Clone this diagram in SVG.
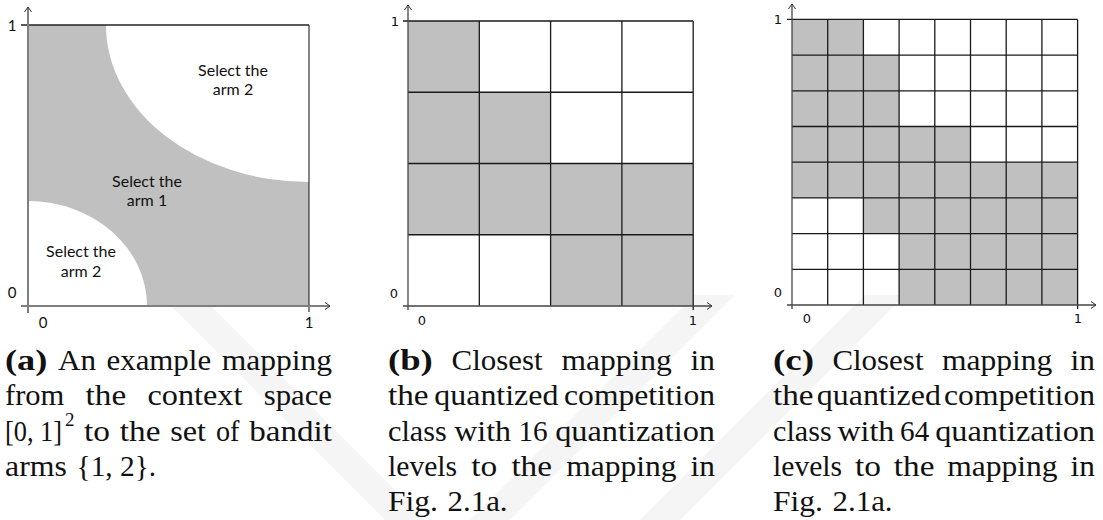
<svg xmlns="http://www.w3.org/2000/svg" width="1103" height="520" viewBox="0 0 1103 520">
<defs>
<marker id="arr" markerUnits="userSpaceOnUse" markerWidth="10" markerHeight="10" refX="7" refY="5" orient="auto">
<path d="M2,1.5 L7,5 L2,8.5" fill="none" stroke="#333" stroke-width="1"/>
</marker>
<style>
.g{fill:#c0c0c0}
.grid{stroke:#1a1a1a;stroke-width:1.3;fill:none}
.axA{stroke:#7f7f7f;stroke-width:2;fill:none}
.ax{stroke:#444;stroke-width:1.3;fill:none}
.wm{fill:#f5f5f5}
</style>
</defs>
<rect width="1103" height="520" fill="#fff"/>
<g id="watermark">
<polygon class="wm" points="165,300 205,300 425,520 385,520"/>
<polygon class="wm" points="470,520 510,520 735,295 695,295"/>
<polygon class="wm" points="640,520 680,520 905,295 865,295"/>
</g>
<g id="panel-a">
<rect class="g" x="28" y="25" width="281" height="281"/>
<path d="M106,25 A203,157 0 0 0 309,182 L309,25 Z" fill="#fff"/>
<path d="M28,201 A119,105 0 0 1 147,306 L28,306 Z" fill="#fff"/>
<line x1="21" y1="25" x2="309" y2="25" stroke="#222" stroke-width="1.3"/>
<line x1="309" y1="25" x2="309" y2="312" stroke="#333" stroke-width="1.2"/>
<g font-family="Lato, Liberation Sans, sans-serif" font-size="16" fill="#111" text-anchor="middle">
<text x="233" y="76">Select the</text>
<text x="233" y="95">arm 2</text>
<text x="147" y="187">Select the</text>
<text x="147" y="206">arm 1</text>
<text x="81" y="257">Select the</text>
<text x="81" y="277">arm 2</text>
<text x="12" y="31" font-size="15">1</text>
<text x="12" y="298" font-size="15">0</text>
<text x="43" y="328" font-size="15">0</text>
<text x="309" y="328" font-size="15">1</text>
</g>
</g>
<g id="panel-b">
<rect class="g" x="408" y="21" width="71.3" height="71.25"/>
<rect class="g" x="408" y="92.25" width="142.6" height="71.25"/>
<rect class="g" x="408" y="163.5" width="285.2" height="71.25"/>
<rect class="g" x="550.6" y="234.75" width="142.6" height="71.25"/>
<path class="grid" d="M403,21 H693.2 M408,92.25 H693.2 M408,163.5 H693.2 M408,234.75 H693.2 M479.3,21 V306 M550.6,21 V306 M621.9,21 V306 M693.2,21 V310"/>
<g font-family="DejaVu Sans, sans-serif" font-size="13" fill="#111" text-anchor="middle">
<text x="395" y="26">1</text>
<text x="394" y="298">0</text>
<text x="422" y="325">0</text>
<text x="693" y="325">1</text>
</g>
</g>
<g id="panel-c">
<path class="g" d="M792,19.4 H863.4 V55.1 H899.1 V126.5 H970.5 V162.2 H1077.6 V305 H899.1 V233.6 H863.4 V197.9 H792 Z"/>
<path class="grid" d="M787,19.4 H1077.6 M792,55.1 H1077.6 M792,90.8 H1077.6 M792,126.5 H1077.6 M792,162.2 H1077.6 M792,197.9 H1077.6 M792,233.6 H1077.6 M792,269.3 H1077.6 M827.7,19.4 V305 M863.4,19.4 V305 M899.1,19.4 V305 M934.8,19.4 V305 M970.5,19.4 V305 M1006.2,19.4 V305 M1041.9,19.4 V305 M1077.6,19.4 V309"/>
<g font-family="DejaVu Sans, sans-serif" font-size="13" fill="#111" text-anchor="middle">
<text x="778" y="24">1</text>
<text x="778" y="297">0</text>
<text x="807" y="323">0</text>
<text x="1078" y="323">1</text>
</g>
</g>
<g id="axes">
<line class="axA" x1="28" y1="313" x2="28" y2="7" marker-end="url(#arr)"/>
<line class="axA" x1="21" y1="306" x2="330" y2="306" marker-end="url(#arr)"/>
<line class="ax" x1="408" y1="310" x2="408" y2="5" marker-end="url(#arr)"/>
<line class="ax" x1="403" y1="306" x2="712" y2="306" marker-end="url(#arr)"/>
<line class="ax" x1="792" y1="309" x2="792" y2="4" marker-end="url(#arr)"/>
<line class="ax" x1="787" y1="305" x2="1096" y2="305" marker-end="url(#arr)"/>
</g>
<g id="captions" fill="#111" font-family="Liberation Serif, DejaVu Serif, serif" font-size="29">
<text x="5" y="370" font-weight="bold" textLength="42.4" lengthAdjust="spacingAndGlyphs">(a)</text>
<text x="57.9" y="370" textLength="38.1" lengthAdjust="spacingAndGlyphs">An</text>
<text x="106.5" y="370" textLength="104.6" lengthAdjust="spacingAndGlyphs">example</text>
<text x="221.7" y="370" textLength="110.3" lengthAdjust="spacingAndGlyphs">mapping</text>
<text x="5" y="405.3" textLength="59.3" lengthAdjust="spacingAndGlyphs">from</text>
<text x="85.6" y="405.3" textLength="40.6" lengthAdjust="spacingAndGlyphs">the</text>
<text x="147.5" y="405.3" textLength="94.9" lengthAdjust="spacingAndGlyphs">context</text>
<text x="263.7" y="405.3" textLength="68.3" lengthAdjust="spacingAndGlyphs">space</text>
<text x="5" y="440.6" textLength="57" lengthAdjust="spacingAndGlyphs">[0, 1]</text>
<text x="65" y="426" font-size="18" textLength="9.5" lengthAdjust="spacingAndGlyphs">2</text>
<text x="83.9" y="440.6" textLength="26" lengthAdjust="spacingAndGlyphs">to</text>
<text x="119.8" y="440.6" textLength="40.6" lengthAdjust="spacingAndGlyphs">the</text>
<text x="170.2" y="440.6" textLength="35.8" lengthAdjust="spacingAndGlyphs">set</text>
<text x="215.9" y="440.6" textLength="23.5" lengthAdjust="spacingAndGlyphs">of</text>
<text x="249.2" y="440.6" textLength="82.8" lengthAdjust="spacingAndGlyphs">bandit</text>
<text x="5" y="476" textLength="61.9" lengthAdjust="spacingAndGlyphs">arms</text>
<text x="76.6" y="476" textLength="79.5" lengthAdjust="spacingAndGlyphs">{1, 2}.</text>

<text x="388" y="370" font-weight="bold" textLength="44.8" lengthAdjust="spacingAndGlyphs">(b)</text>
<text x="451.6" y="370" textLength="91.1" lengthAdjust="spacingAndGlyphs">Closest</text>
<text x="561.5" y="370" textLength="110.3" lengthAdjust="spacingAndGlyphs">mapping</text>
<text x="690.6" y="370" textLength="24.4" lengthAdjust="spacingAndGlyphs">in</text>
<text x="388" y="405.3" textLength="40.6" lengthAdjust="spacingAndGlyphs">the</text>
<text x="434.3" y="405.3" textLength="124.1" lengthAdjust="spacingAndGlyphs">quantized</text>
<text x="564.1" y="405.3" textLength="150.9" lengthAdjust="spacingAndGlyphs">competition</text>
<text x="388" y="440.6" textLength="58.7" lengthAdjust="spacingAndGlyphs">class</text>
<text x="454.2" y="440.6" textLength="56.8" lengthAdjust="spacingAndGlyphs">with</text>
<text x="518.5" y="440.6" textLength="29.2" lengthAdjust="spacingAndGlyphs">16</text>
<text x="555.2" y="440.6" textLength="159.8" lengthAdjust="spacingAndGlyphs">quantization</text>
<text x="388" y="476" textLength="69.1" lengthAdjust="spacingAndGlyphs">levels</text>
<text x="471.3" y="476" textLength="26" lengthAdjust="spacingAndGlyphs">to</text>
<text x="511.4" y="476" textLength="40.6" lengthAdjust="spacingAndGlyphs">the</text>
<text x="566.2" y="476" textLength="110.3" lengthAdjust="spacingAndGlyphs">mapping</text>
<text x="690.6" y="476" textLength="24.4" lengthAdjust="spacingAndGlyphs">in</text>
<text x="388" y="511.3" textLength="49.9" lengthAdjust="spacingAndGlyphs">Fig.</text>
<text x="447.6" y="511.3" textLength="60" lengthAdjust="spacingAndGlyphs">2.1a.</text>

<text x="773" y="370" font-weight="bold" textLength="41" lengthAdjust="spacingAndGlyphs">(c)</text>
<text x="832.4" y="370" textLength="91.1" lengthAdjust="spacingAndGlyphs">Closest</text>
<text x="941.9" y="370" textLength="110.3" lengthAdjust="spacingAndGlyphs">mapping</text>
<text x="1070.6" y="370" textLength="24.4" lengthAdjust="spacingAndGlyphs">in</text>
<text x="773" y="405.3" textLength="40.6" lengthAdjust="spacingAndGlyphs">the</text>
<text x="816.8" y="405.3" textLength="124.1" lengthAdjust="spacingAndGlyphs">quantized</text>
<text x="944.1" y="405.3" textLength="150.9" lengthAdjust="spacingAndGlyphs">competition</text>
<text x="773" y="440.6" textLength="58.7" lengthAdjust="spacingAndGlyphs">class</text>
<text x="837.5" y="440.6" textLength="56.8" lengthAdjust="spacingAndGlyphs">with</text>
<text x="900.1" y="440.6" textLength="29.2" lengthAdjust="spacingAndGlyphs">64</text>
<text x="935.2" y="440.6" textLength="159.8" lengthAdjust="spacingAndGlyphs">quantization</text>
<text x="773" y="476" textLength="69.1" lengthAdjust="spacingAndGlyphs">levels</text>
<text x="854.9" y="476" textLength="26" lengthAdjust="spacingAndGlyphs">to</text>
<text x="893.8" y="476" textLength="40.6" lengthAdjust="spacingAndGlyphs">the</text>
<text x="947.3" y="476" textLength="110.3" lengthAdjust="spacingAndGlyphs">mapping</text>
<text x="1070.6" y="476" textLength="24.4" lengthAdjust="spacingAndGlyphs">in</text>
<text x="773" y="511.3" textLength="49.9" lengthAdjust="spacingAndGlyphs">Fig.</text>
<text x="832.6" y="511.3" textLength="60" lengthAdjust="spacingAndGlyphs">2.1a.</text>
</g>
</svg>
